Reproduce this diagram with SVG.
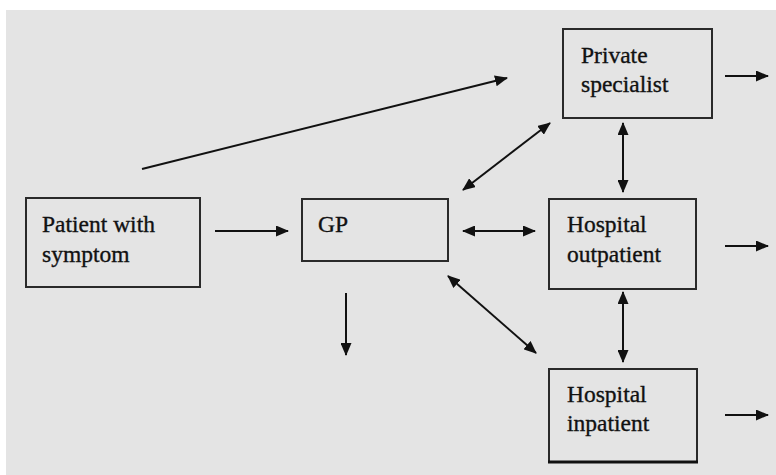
<svg xmlns="http://www.w3.org/2000/svg" width="776" height="475" viewBox="0 0 776 475">
  <style>
    .box { fill: none; stroke: #2a2a2a; stroke-width: 2; }
    .lbl { font-family: 'Liberation Serif', 'DejaVu Serif', serif; font-size: 23.5px; fill: #111; stroke: #111; stroke-width: 0.35; }
    .arr { stroke: #111; stroke-width: 2; fill: none; }
  </style>
  <defs>
    <marker id="head" viewBox="0 0 13 11" refX="12" refY="5.5" markerWidth="13" markerHeight="11" markerUnits="userSpaceOnUse" orient="auto-start-reverse">
      <path d="M0,0 L13,5.5 L0,11 Z" fill="#111"/>
    </marker>
  </defs>
  <rect x="0" y="0" width="776" height="475" fill="#ffffff"/>
  <rect x="6" y="10" width="770" height="465" fill="#e4e4e4"/>

  <g id="patient">
    <rect class="box" x="26" y="198" width="174" height="89"/>
    <text class="lbl" x="42" y="232">Patient with</text>
    <text class="lbl" x="42" y="262">symptom</text>
  </g>
  <g id="gp">
    <rect class="box" x="302" y="199" width="146" height="62"/>
    <text class="lbl" x="318" y="232">GP</text>
  </g>
  <g id="private">
    <rect class="box" x="563" y="29" width="149" height="89"/>
    <text class="lbl" x="581" y="63">Private</text>
    <text class="lbl" x="581" y="92">specialist</text>
  </g>
  <g id="outpatient">
    <rect class="box" x="549" y="199" width="147" height="90"/>
    <text class="lbl" x="567" y="232">Hospital</text>
    <text class="lbl" x="567" y="262">outpatient</text>
  </g>
  <g id="inpatient">
    <rect class="box" x="549" y="369" width="148" height="93"/>
    <line x1="548" y1="462" x2="698" y2="462" stroke="#111" stroke-width="3"/>
    <text class="lbl" x="567" y="402">Hospital</text>
    <text class="lbl" x="567" y="431">inpatient</text>
  </g>

  <g id="connectors">
    <line class="arr" x1="215" y1="231" x2="288" y2="231" marker-end="url(#head)"/>
    <line class="arr" x1="142" y1="169" x2="507" y2="78" marker-end="url(#head)"/>
    <line class="arr" x1="463" y1="190" x2="550" y2="123" marker-start="url(#head)" marker-end="url(#head)"/>
    <line class="arr" x1="623" y1="123" x2="623" y2="192" marker-start="url(#head)" marker-end="url(#head)"/>
    <line class="arr" x1="463" y1="231" x2="535" y2="231" marker-start="url(#head)" marker-end="url(#head)"/>
    <line class="arr" x1="448" y1="276" x2="536" y2="353" marker-start="url(#head)" marker-end="url(#head)"/>
    <line class="arr" x1="623" y1="292" x2="623" y2="362" marker-start="url(#head)" marker-end="url(#head)"/>
    <line class="arr" x1="346" y1="293" x2="346" y2="355" marker-end="url(#head)"/>
    <line class="arr" x1="725" y1="76" x2="768" y2="76" marker-end="url(#head)"/>
    <line class="arr" x1="725" y1="246" x2="768" y2="246" stroke="#444" marker-end="url(#head)"/>
    <line class="arr" x1="725" y1="415" x2="768" y2="415" marker-end="url(#head)"/>
  </g>
</svg>
